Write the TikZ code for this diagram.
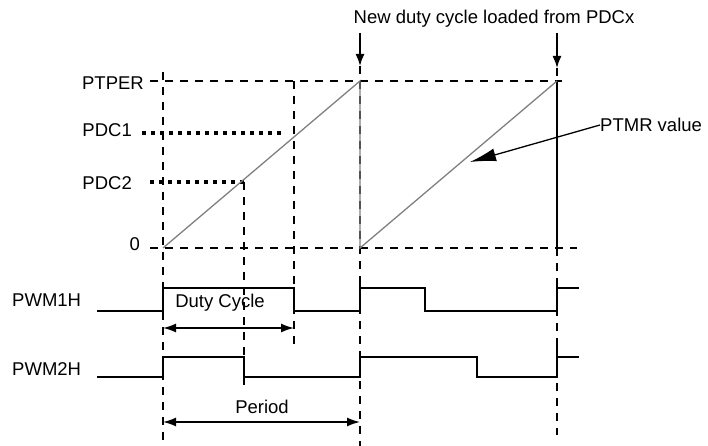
\documentclass[tikz,border=0pt]{standalone}
\usepackage{fontspec}
\setmainfont{Liberation Sans}
\usetikzlibrary{arrows.meta,positioning,calc}

\begin{document}
\begin{tikzpicture}[x=1pt,y=-1pt,
		arrow/.style = {line width=1.6pt,-{Latex[length=12pt,width=9pt]}},
		dblarrow/.style = {line width=1.6pt,{Latex[length=13pt,width=9pt]}-{Latex[length=13pt,width=9pt]}},
		lbl/.style = {inner sep=0pt,font=\fontsize{18.5}{22}\selectfont}]
		\tikzset{grid/.style={line width=1.8pt,dash pattern=on 8pt off 7pt},
			dotline/.style={line width=3.2pt,dash pattern=on 4pt off 5pt},
			wave/.style={line width=1.8pt},
			ramp/.style={line width=1.3pt,gray}}
		\useasboundingbox (0,0) rectangle (708,446);

		\coordinate (a0) at (163,248);
		\coordinate (a1) at (360,81);
		\coordinate (b0) at (360,248);
		\coordinate (b1) at (557,81);
		\coordinate (c1) at (294,133);
		\coordinate (c2) at (244,182);
		\coordinate (bot) at (0,446);

		\node[lbl, anchor=east] (ptper) at (144,83) {PTPER};
		\node[lbl, anchor=east] (pdc1) at (132,130) {PDC1};
		\node[lbl, anchor=east] (pdc2) at (132,183) {PDC2};
		\node[lbl, anchor=east] (zero) at (140,244) {0};
		\node[lbl, anchor=west] (pwm1h) at (12,300) {PWM1H};
		\node[lbl, anchor=west] (pwm2h) at (12,369) {PWM2H};
		\node[lbl] (newduty) at (494,19) {New duty cycle loaded from PDCx};
		\node[lbl, anchor=west] (ptmr) at (600,125) {PTMR value};
		\node[lbl] (duty) at (220,303) {Duty Cycle};
		\node[lbl] (period) at (262,407) {Period};

		\draw [grid] ([xshift=6pt]ptper.east |- a1) -- ([xshift=5pt]b1);
		\draw [grid] ([xshift=10pt]zero.east |- a0) -- ([xshift=20pt]b1 |- b0);
		\draw [dotline] ([xshift=10pt]pdc1.east |- c1) -- ([xshift=-9pt]c1);
		\draw [dotline] ([xshift=18pt]pdc2.east |- c2) -- (c2);

		\draw [grid] ([yshift=9pt]a0 |- a1) -- (a0 |- bot);
		\draw [grid] (c2) -- ++(0,203);
		\draw [grid] (c1 |- a1) -- ++(0,267);
		\draw [grid] ([yshift=15pt]a1) -- (a1 |- bot);
		\draw [grid] ([yshift=13pt]b1) -- (b1);
		\draw [grid] (b1 |- b0) -- ++(0,187);
		\draw [wave] (b1) -- (b1 |- b0);

		\draw [ramp] (a0) -- (a1) -- (b0) -- (b1);

		\draw [arrow] (newduty.south -| a1) ++(0,5) -- ([yshift=15pt]a1);
		\draw [arrow] (newduty.south -| b1) ++(0,5) -- ([yshift=13pt]b1);
		\coordinate (tip) at (470,162);
		\draw [line width=1.3pt,-{Latex[length=26pt,width=13pt]}] (ptmr.west) -- (tip);

		\draw [wave] (97,311) -- (163,311) -- (163,283) (163,288) -- (294,288) -- (294,311) -- (360,311) -- (360,283)
			(360,288) -- (425,288) -- (425,311) -- (557,311) -- (557,283) (557,288) -- (579,288);
		\draw [wave] (97,377) -- (163,377) -- (163,357) -- (244,357) -- (244,377) -- (360,377) -- (360,357)
			-- (477,357) -- (477,377) -- (557,377) -- (557,346) (557,357) -- (579,357);

		\coordinate (d0) at (163,328);
		\coordinate (p0) at (163,422);
		\draw [dblarrow] (d0) -- (d0 -| c1);
		\draw [dblarrow] (p0) -- (p0 -| a1);

	\end{tikzpicture}
\end{document}
